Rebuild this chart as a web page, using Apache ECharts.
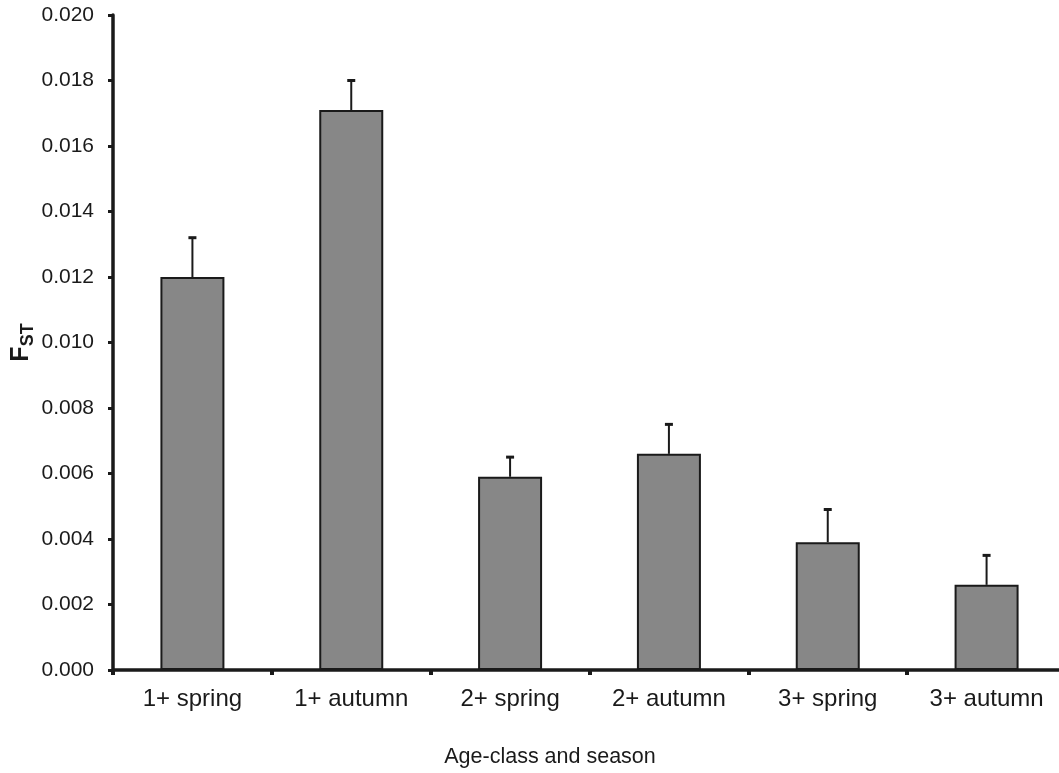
<!DOCTYPE html>
<html>
<head>
<meta charset="utf-8">
<script src="https://cdn.jsdelivr.net/npm/echarts@6/dist/echarts.min.js"></script>
<style>
  html, body { margin: 0; padding: 0; background: #fff; overflow: hidden; }
  #chart { width: 1070px; height: 773px; }
</style>
</head>
<body>
<div id="chart"></div>
<script>
// Age-class / season groups and their F_ST estimates
const categories = ['1+ spring', '1+ autumn', '2+ spring', '2+ autumn', '3+ spring', '3+ autumn'];
const fstValues = [0.0120, 0.0171, 0.0059, 0.0066, 0.0039, 0.0026];
// Upper end of each error bar
const errorUpper = [0.0132, 0.0180, 0.0065, 0.0075, 0.0049, 0.0035];

const ink = '#1a1a1a';
const font = 'Liberation Sans, Arial, sans-serif';

const chart = echarts.init(document.getElementById('chart'), null, { renderer: 'canvas' });

const errorData = categories.map((c, i) => [i, fstValues[i], errorUpper[i]]);

chart.setOption({
  animation: false,
  backgroundColor: '#ffffff',
  // the plot runs slightly past the right edge of the visible page
  grid: { left: 113, right: 4, top: 15, bottom: 103, containLabel: false, outerBoundsMode: 'none' },
  xAxis: {
    type: 'category',
    data: categories,
    name: 'Age-class and season',
    nameLocation: 'middle',
    nameGap: 76,
    nameMoveOverlap: false,
    nameTextStyle: { fontFamily: font, fontSize: 21.5, color: ink, padding: [0, 79, 0, 0] },
    axisLine: { lineStyle: { color: ink, width: 3.5 } },
    axisTick: { show: true, length: 5, lineStyle: { color: ink, width: 4 } },
    axisLabel: { fontFamily: font, fontSize: 24, color: ink, margin: 17 }
  },
  yAxis: {
    type: 'value',
    min: 0,
    max: 0.020,
    interval: 0.002,
    name: '{f|F}{s|ST}',
    nameLocation: 'middle',
    nameGap: 76,
    nameMoveOverlap: false,
    nameRotate: 90,
    nameTextStyle: {
      rich: {
        f: { fontFamily: font, fontSize: 25, fontWeight: 'bold', color: ink },
        s: { fontFamily: font, fontSize: 18, fontWeight: 'bold', color: ink, verticalAlign: 'bottom', padding: [14, 0, 0, 0] }
      }
    },
    axisLine: { show: true, lineStyle: { color: ink, width: 3.5 } },
    axisTick: { show: true, length: 5, lineStyle: { color: ink, width: 3 } },
    splitLine: { show: false },
    axisLabel: {
      fontFamily: font, fontSize: 21, color: ink, margin: 19,
      formatter: v => v.toFixed(3)
    }
  },
  series: [
    {
      type: 'bar',
      data: fstValues,
      barWidth: 64,
      itemStyle: { color: '#878787', borderColor: ink, borderWidth: 2 }
    },
    {
      type: 'custom',
      data: errorData,
      z: 1,
      renderItem: function (params, api) {
        const x = api.value(0);
        const base = api.coord([x, api.value(1)]);
        const top = api.coord([x, api.value(2)]);
        const half = 4;
        return {
          type: 'group',
          children: [
            { type: 'line', shape: { x1: base[0], y1: base[1], x2: top[0], y2: top[1] },
              style: { stroke: ink, lineWidth: 2 } },
            { type: 'line', shape: { x1: top[0] - half, y1: top[1], x2: top[0] + half, y2: top[1] },
              style: { stroke: ink, lineWidth: 3 } }
          ]
        };
      }
    }
  ]
});
</script>
</body>
</html>
